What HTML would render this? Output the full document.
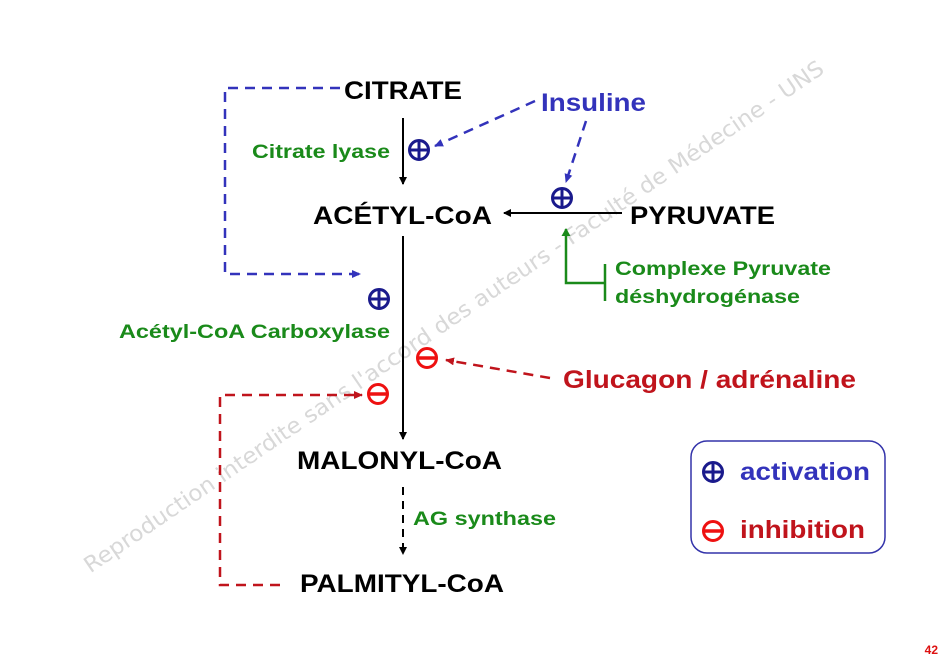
<!DOCTYPE html>
<html><head><meta charset="utf-8"><style>
html,body{margin:0;padding:0;background:#fff;width:945px;height:664px;overflow:hidden}
svg{display:block}
text{font-family:"Liberation Sans",Arial,sans-serif;font-weight:bold}
</style></head><body>
<svg width="945" height="664" viewBox="0 0 945 664" xmlns="http://www.w3.org/2000/svg">
<defs>
<marker id="ak" markerWidth="8" markerHeight="8" refX="7" refY="4" orient="auto" markerUnits="userSpaceOnUse"><path d="M0,0 L8,4 L0,8 z" fill="#000"/></marker>
<marker id="ab" markerWidth="9" markerHeight="8" refX="8" refY="4" orient="auto" markerUnits="userSpaceOnUse"><path d="M0,0 L9,4 L0,8 z" fill="#3333bb"/></marker>
<marker id="ar" markerWidth="9" markerHeight="8" refX="8" refY="4" orient="auto" markerUnits="userSpaceOnUse"><path d="M0,0 L9,4 L0,8 z" fill="#c0141c"/></marker>
<marker id="ag" markerWidth="8" markerHeight="9" refX="7" refY="4.5" orient="auto" markerUnits="userSpaceOnUse"><path d="M0,0 L8,4.5 L0,9 z" fill="#1a8a1a"/></marker>
<g id="plus"><circle r="9.5" fill="none" stroke="#1a1a8c" stroke-width="3"/><line x1="-9.5" y1="0" x2="9.5" y2="0" stroke="#1a1a8c" stroke-width="3"/><line x1="0" y1="-9.5" x2="0" y2="9.5" stroke="#1a1a8c" stroke-width="3"/></g>
<g id="minus"><circle r="9.5" fill="none" stroke="#ee1111" stroke-width="3"/><line x1="-9.5" y1="0" x2="9.5" y2="0" stroke="#ee1111" stroke-width="3.5"/></g>
</defs>

<text x="454" y="324" transform="rotate(-34.3 454 317)" font-size="22" fill="#d8d8d8" style="font-family:'DejaVu Sans',sans-serif;font-weight:normal" text-anchor="middle" textLength="890" lengthAdjust="spacingAndGlyphs">Reproduction interdite  sans l'accord des auteurs - Faculté de Médecine - UNS</text>

<text x="344" y="99" font-size="25" textLength="118" lengthAdjust="spacingAndGlyphs">CITRATE</text>
<text x="313" y="224" font-size="25" textLength="179" lengthAdjust="spacingAndGlyphs">ACÉTYL-CoA</text>
<text x="630" y="224" font-size="25" textLength="145" lengthAdjust="spacingAndGlyphs">PYRUVATE</text>
<text x="297" y="469" font-size="25" textLength="205" lengthAdjust="spacingAndGlyphs">MALONYL-CoA</text>
<text x="300" y="592" font-size="25" textLength="204" lengthAdjust="spacingAndGlyphs">PALMITYL-CoA</text>

<line x1="403" y1="118" x2="403" y2="184" stroke="#000" stroke-width="2" marker-end="url(#ak)"/>
<line x1="403" y1="236" x2="403" y2="439" stroke="#000" stroke-width="2" marker-end="url(#ak)"/>
<line x1="622" y1="213" x2="504" y2="213" stroke="#000" stroke-width="2" marker-end="url(#ak)"/>
<line x1="403" y1="487" x2="403" y2="554" stroke="#000" stroke-width="2" stroke-dasharray="8,6" marker-end="url(#ak)"/>

<text x="252" y="158" font-size="19" fill="#1a8a1a" textLength="138" lengthAdjust="spacingAndGlyphs">Citrate lyase</text>
<text x="119" y="338" font-size="19" fill="#1a8a1a" textLength="271" lengthAdjust="spacingAndGlyphs">Acétyl-CoA Carboxylase</text>
<text x="413" y="525" font-size="19" fill="#1a8a1a" textLength="143" lengthAdjust="spacingAndGlyphs">AG synthase</text>
<text x="615" y="275" font-size="19" fill="#1a8a1a" textLength="216" lengthAdjust="spacingAndGlyphs">Complexe Pyruvate</text>
<text x="615" y="303" font-size="19" fill="#1a8a1a" textLength="185" lengthAdjust="spacingAndGlyphs">déshydrogénase</text>
<polyline points="605,283 566,283 566,229" fill="none" stroke="#1a8a1a" stroke-width="2.5" marker-end="url(#ag)"/>
<line x1="605" y1="264" x2="605" y2="301" stroke="#1a8a1a" stroke-width="2.5"/>

<text x="541" y="111" font-size="25" fill="#3333bb" textLength="105" lengthAdjust="spacingAndGlyphs">Insuline</text>
<line x1="535" y1="101" x2="435" y2="146" stroke="#3333bb" stroke-width="2.5" stroke-dasharray="10,7" marker-end="url(#ab)"/>
<line x1="586" y1="121" x2="566" y2="182" stroke="#3333bb" stroke-width="2.5" stroke-dasharray="10,7" marker-end="url(#ab)"/>
<polyline points="340,88 225,88 225,274 360,274" fill="none" stroke="#3333bb" stroke-width="2.5" stroke-dasharray="10,7" marker-end="url(#ab)"/>

<use href="#plus" x="419" y="150"/>
<use href="#plus" x="562" y="198"/>
<use href="#plus" x="379" y="299"/>

<text x="563" y="388" font-size="25" fill="#c0141c" textLength="293" lengthAdjust="spacingAndGlyphs">Glucagon / adrénaline</text>
<line x1="550" y1="378" x2="446" y2="360" stroke="#c0141c" stroke-width="2.5" stroke-dasharray="10,7" marker-end="url(#ar)"/>
<polyline points="280,585 220,585 220,395 362,395" fill="none" stroke="#c0141c" stroke-width="2.5" stroke-dasharray="10,7" marker-end="url(#ar)"/>
<use href="#minus" x="427" y="358"/>
<use href="#minus" x="378" y="394"/>

<rect x="691" y="441" width="194" height="112" rx="16" fill="#fff" stroke="#3333aa" stroke-width="1.5"/>
<use href="#plus" x="713" y="472"/>
<text x="740" y="480" font-size="25" fill="#3333bb" textLength="130" lengthAdjust="spacingAndGlyphs">activation</text>
<use href="#minus" x="713" y="531"/>
<text x="740" y="538" font-size="25" fill="#c0141c" textLength="125" lengthAdjust="spacingAndGlyphs">inhibition</text>

<text x="938" y="654" font-size="12" fill="#dd1111" text-anchor="end">42</text>
</svg>
</body></html>
